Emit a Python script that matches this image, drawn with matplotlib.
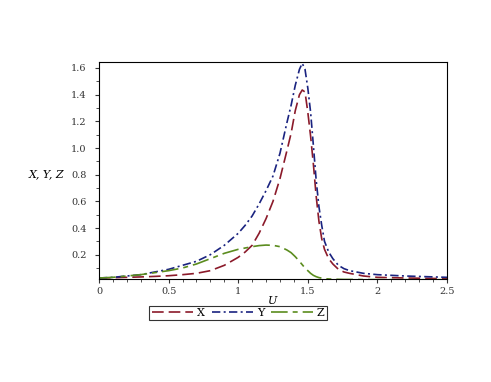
import matplotlib.pyplot as plt
from matplotlib.ticker import MultipleLocator

# values
u = [0.0, 0.1, 0.2, 0.3, 0.4, 0.5, 0.6, 0.7, 0.8, 0.9, 1.0, 1.05, 1.1,
     1.15, 1.2, 1.25, 1.3, 1.35, 1.38, 1.41, 1.44, 1.46, 1.48, 1.5, 1.52,
     1.54, 1.56, 1.58, 1.6, 1.62, 1.65, 1.68, 1.72, 1.76, 1.8, 1.9, 2.0,
     2.2, 2.5]
x_vals = [0.025, 0.027, 0.03, 0.033, 0.037, 0.042, 0.05, 0.06, 0.08, 0.12,
          0.18, 0.22, 0.27, 0.36, 0.47, 0.60, 0.77, 0.98, 1.11, 1.28, 1.40,
          1.435, 1.42, 1.27, 1.09, 0.88, 0.64, 0.45, 0.32, 0.24, 0.17, 0.13,
          0.09, 0.07, 0.06, 0.04, 0.03, 0.025, 0.02]
y_vals = [0.025, 0.03, 0.04, 0.05, 0.07, 0.09, 0.12, 0.15, 0.2, 0.27, 0.36,
          0.42, 0.49, 0.58, 0.68, 0.79, 0.96, 1.19, 1.32, 1.47, 1.59, 1.635,
          1.59, 1.45, 1.27, 1.02, 0.76, 0.56, 0.42, 0.30, 0.22, 0.17, 0.12,
          0.095, 0.08, 0.06, 0.05, 0.04, 0.03]
z_vals = [0.025, 0.03, 0.04, 0.05, 0.065, 0.08, 0.10, 0.13, 0.17, 0.21,
          0.24, 0.25, 0.26, 0.268, 0.272, 0.27, 0.26, 0.235, 0.215, 0.185,
          0.15, 0.125, 0.10, 0.08, 0.06, 0.045, 0.035, 0.028, 0.024, 0.02,
          0.018, 0.016, 0.015, 0.014, 0.014, 0.013, 0.013, 0.012, 0.012]

plt.rcParams["font.family"] = ["DejaVu Serif"]

fig = plt.figure(figsize=(4.91, 3.82), dpi=100)
ax = fig.add_axes([0.2016, 0.2705, 0.7088, 0.5672])

ax.plot(u, x_vals, color="#8b1a2a", lw=1.2, dashes=(7, 3), label="X")
ax.plot(u, y_vals, color="#1a2380", lw=1.2, dashes=(5, 2, 1.2, 2), label="Y")
ax.plot(u, z_vals, color="#5b8c1e", lw=1.2, dashes=(10, 3, 3, 3), label="Z")

ax.set_xlim(0, 2.5)
ax.set_ylim(0.02, 1.645)
ax.set_xticks([0, 0.5, 1, 1.5, 2, 2.5])
ax.set_xticklabels(["0", "0.5", "1", "1.5", "2", "2.5"])
ax.set_yticks([0.2, 0.4, 0.6, 0.8, 1.0, 1.2, 1.4, 1.6])
ax.xaxis.set_minor_locator(MultipleLocator(0.1))
ax.yaxis.set_minor_locator(MultipleLocator(0.1))
ax.tick_params(which="both", direction="out", top=False, right=False,
               labelsize=7, colors="#333333")
ax.tick_params(which="major", length=3)
ax.tick_params(which="minor", length=2)
ax.tick_params(axis="x", which="major", pad=3)
ax.tick_params(axis="y", which="major", pad=6)
for side in ax.spines.values():
    side.set_linewidth(0.8)

ax.set_xlabel("U", style="italic", fontsize=8, labelpad=0)
ax.set_ylabel("X, Y, Z", style="italic", fontsize=8, rotation=0,
              ha="right", va="center")
ax.yaxis.set_label_coords(-0.10, 0.48)

leg = fig.legend(loc="center", bbox_to_anchor=(0.485, 0.18), ncol=3,
                 fontsize=8, frameon=True, fancybox=False, handlelength=3.7,
                 borderpad=0.2, columnspacing=0.6, handletextpad=0.4)
leg.get_frame().set_edgecolor("black")
leg.get_frame().set_linewidth(0.8)

fig.savefig("out.png", dpi=100)
